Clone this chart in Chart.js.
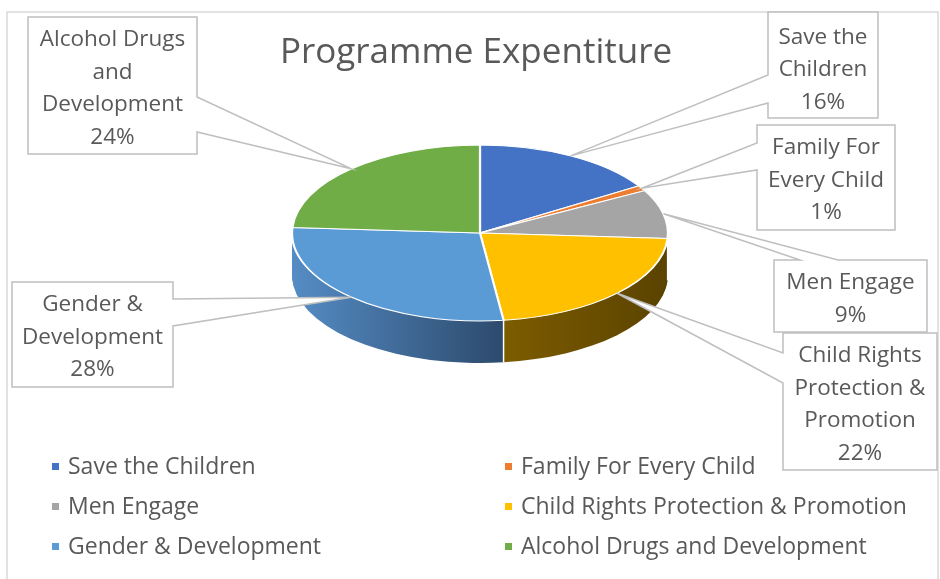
<html>
<head>
    <title>Programme Expentiture</title>
    <script src="https://cdn.jsdelivr.net/npm/chart.js"></script>
</head>
<style>
    body { margin: 0; background: #fff; }
    #wrap { width: 940px; height: 579px; position: relative; }
</style>
<body>
<div id="wrap"><canvas id="chartCanvas"></canvas></div>
</body>

<script>
const chartTitle = 'Programme Expentiture';
const categories = [
    'Save the Children', 'Family For Every Child', 'Men Engage',
    'Child Rights Protection & Promotion', 'Gender & Development', 'Alcohol Drugs and Development'
];
const spending = [16, 1, 9, 22, 28, 24];

const topColors = ['#4472C4', '#ED7D31', '#A5A5A5', '#FFC000', '#5B9BD5', '#70AD47'];
const sideLight = ['#34599a', '#b45d24', '#7e7e7e', '#7d5c00', '#558cc5', '#568a36'];
const sideDark  = ['#223c68', '#7a3f18', '#555555', '#5a4300', '#2c4a6c', '#3a5c24'];
const textColor = '#595959';
const font = 'Open Sans';

// where the tilted pie sits on the page
const pie = { cx: 480, cy: 233, rx: 188, ry: 88, depth: 42 };

// callout boxes: box, which side the pointer leaves from, pointer base, wrap width
const callouts = [
    { x: 768, y: 12,  w: 110, h: 106, side: 'left',  a: 75,  b: 103, wrap: 100, dy: 5 },
    { x: 757, y: 125, w: 138, h: 105, side: 'left',  a: 143, b: 170, wrap: 128, dy: 3 },
    { x: 774, y: 260, w: 153, h: 72,  side: 'top',   a: 800, b: 838, wrap: 140, dy: 3 },
    { x: 783, y: 333, w: 154, h: 137, side: 'left',  a: 353, b: 383, wrap: 140, dy: 3 },
    { x: 12,  y: 282, w: 161, h: 105, side: 'right', a: 299, b: 326, wrap: 150, dy: 3 },
    { x: 28,  y: 17,  w: 169, h: 137, side: 'right', a: 97,  b: 132, wrap: 152, dy: 3 }
];

const legendCols = [52, 505];
const legendRows = [466, 506, 546];

function toScreen(ang, f) {
    return {
        x: pie.cx + Math.cos(ang) * pie.rx * f,
        y: pie.cy + Math.sin(ang) * pie.ry * f
    };
}

const pie3d = {
    id: 'pie3d',
    beforeDraw(chart) {
        const ctx = chart.ctx;
        ctx.save();
        ctx.fillStyle = '#fff';
        ctx.fillRect(0, 0, chart.width, chart.height);
        ctx.strokeStyle = '#D9D9D9';
        ctx.lineWidth = 1.5;
        ctx.strokeRect(7, 12, 931, 620);
        ctx.restore();
    },
    beforeDatasetDraw(chart) {
        const ctx = chart.ctx;
        const arcs = chart.getDatasetMeta(0).data;
        const R = arcs[0].outerRadius;
        const sx = pie.rx / R, sy = pie.ry / R;

        // one gradient per slice, across the front part of its rim
        const grads = arcs.map((arc, i) => {
            let lo = R, hi = -R;
            for (let t = 0; t <= 60; t++) {
                const a = arc.startAngle + (arc.endAngle - arc.startAngle) * t / 60;
                if (Math.sin(a) < 0) continue;
                lo = Math.min(lo, Math.cos(a) * R);
                hi = Math.max(hi, Math.cos(a) * R);
            }
            if (hi <= lo) { lo = -R; hi = R; }
            const g = ctx.createLinearGradient(lo, 0, hi, 0);
            g.addColorStop(0, sideLight[i]);
            g.addColorStop(1, sideDark[i]);
            return g;
        });

        // side wall: stacked copies going down
        for (let d = pie.depth; d >= 1; d--) {
            ctx.save();
            ctx.translate(pie.cx, pie.cy + d);
            ctx.scale(sx, sy);
            arcs.forEach((arc, i) => {
                ctx.beginPath();
                ctx.moveTo(0, 0);
                ctx.arc(0, 0, R, arc.startAngle, arc.endAngle);
                ctx.closePath();
                ctx.fillStyle = grads[i];
                ctx.fill();
            });
            ctx.restore();
        }

        // white seams on the wall where slices meet
        ctx.save();
        ctx.strokeStyle = '#fff';
        ctx.lineWidth = 1.5;
        arcs.forEach(arc => {
            const a = arc.startAngle;
            if (Math.sin(a) > 0.03) {
                const p = toScreen(a, 1);
                ctx.beginPath();
                ctx.moveTo(p.x, p.y);
                ctx.lineTo(p.x, p.y + pie.depth);
                ctx.stroke();
            }
        });
        ctx.restore();

        // squash the top face
        ctx.save();
        ctx.translate(pie.cx, pie.cy);
        ctx.scale(sx, sy);
        ctx.translate(-arcs[0].x, -arcs[0].y);
    },
    afterDatasetDraw(chart) {
        chart.ctx.restore();
    }
};

function wrapText(ctx, text, width) {
    const words = text.split(' ');
    const lines = [];
    let line = '';
    words.forEach(w => {
        const test = line ? line + ' ' + w : w;
        if (line && ctx.measureText(test).width > width) {
            lines.push(line);
            line = w;
        } else {
            line = test;
        }
    });
    if (line) lines.push(line);
    return lines;
}

const labelsAndLegend = {
    id: 'labelsAndLegend',
    afterDraw(chart) {
        const ctx = chart.ctx;
        const arcs = chart.getDatasetMeta(0).data;
        const total = spending.reduce((s, v) => s + v, 0);

        ctx.save();
        ctx.font = `22.5px "${font}"`;
        arcs.forEach((arc, i) => {
            const c = callouts[i];
            const tip = toScreen((arc.startAngle + arc.endAngle) / 2, 1);
            ctx.beginPath();
            ctx.moveTo(c.x, c.y);
            if (c.side === 'top') { ctx.lineTo(c.a, c.y); ctx.lineTo(tip.x, tip.y); ctx.lineTo(c.b, c.y); }
            ctx.lineTo(c.x + c.w, c.y);
            if (c.side === 'right') { ctx.lineTo(c.x + c.w, c.a); ctx.lineTo(tip.x, tip.y); ctx.lineTo(c.x + c.w, c.b); }
            ctx.lineTo(c.x + c.w, c.y + c.h);
            ctx.lineTo(c.x, c.y + c.h);
            if (c.side === 'left') { ctx.lineTo(c.x, c.b); ctx.lineTo(tip.x, tip.y); ctx.lineTo(c.x, c.a); }
            ctx.closePath();
            ctx.fillStyle = '#fff';
            ctx.fill();
            ctx.strokeStyle = '#BFBFBF';
            ctx.lineWidth = 1.5;
            ctx.stroke();

            const lines = wrapText(ctx, categories[i], c.wrap);
            lines.push(Math.round(spending[i] / total * 100) + '%');
            const lh = 32.5;
            const y0 = c.y + c.h / 2 - (lines.length - 1) * lh / 2 + c.dy;
            ctx.fillStyle = textColor;
            ctx.textAlign = 'center';
            ctx.textBaseline = 'middle';
            lines.forEach((t, k) => ctx.fillText(t, c.x + c.w / 2, y0 + k * lh));
        });

        // legend, two columns
        ctx.font = `23px "${font}"`;
        ctx.textAlign = 'left';
        ctx.textBaseline = 'middle';
        categories.forEach((name, i) => {
            const x = legendCols[i % 2];
            const y = legendRows[Math.floor(i / 2)];
            ctx.fillStyle = topColors[i];
            ctx.fillRect(x, y - 3, 7, 7);
            ctx.fillStyle = textColor;
            ctx.fillText(name, x + 16, y + 1);
        });
        ctx.restore();
    }
};

new Chart(document.getElementById('chartCanvas'), {
    type: 'pie',
    data: {
        labels: categories,
        datasets: [{
            data: spending,
            backgroundColor: topColors,
            borderColor: '#ffffff',
            borderWidth: 2,
            clip: false
        }]
    },
    options: {
        responsive: true,
        maintainAspectRatio: false,
        animation: false,
        events: [],
        layout: { padding: { left: 12, right: 0, top: 14, bottom: 150 } },
        plugins: {
            legend: { display: false },
            tooltip: { enabled: false },
            title: {
                display: true,
                text: chartTitle,
                color: textColor,
                font: { family: font, size: 35, weight: 'normal' },
                padding: { top: 18, bottom: 10 }
            }
        }
    },
    plugins: [pie3d, labelsAndLegend]
});
</script>
</html>
